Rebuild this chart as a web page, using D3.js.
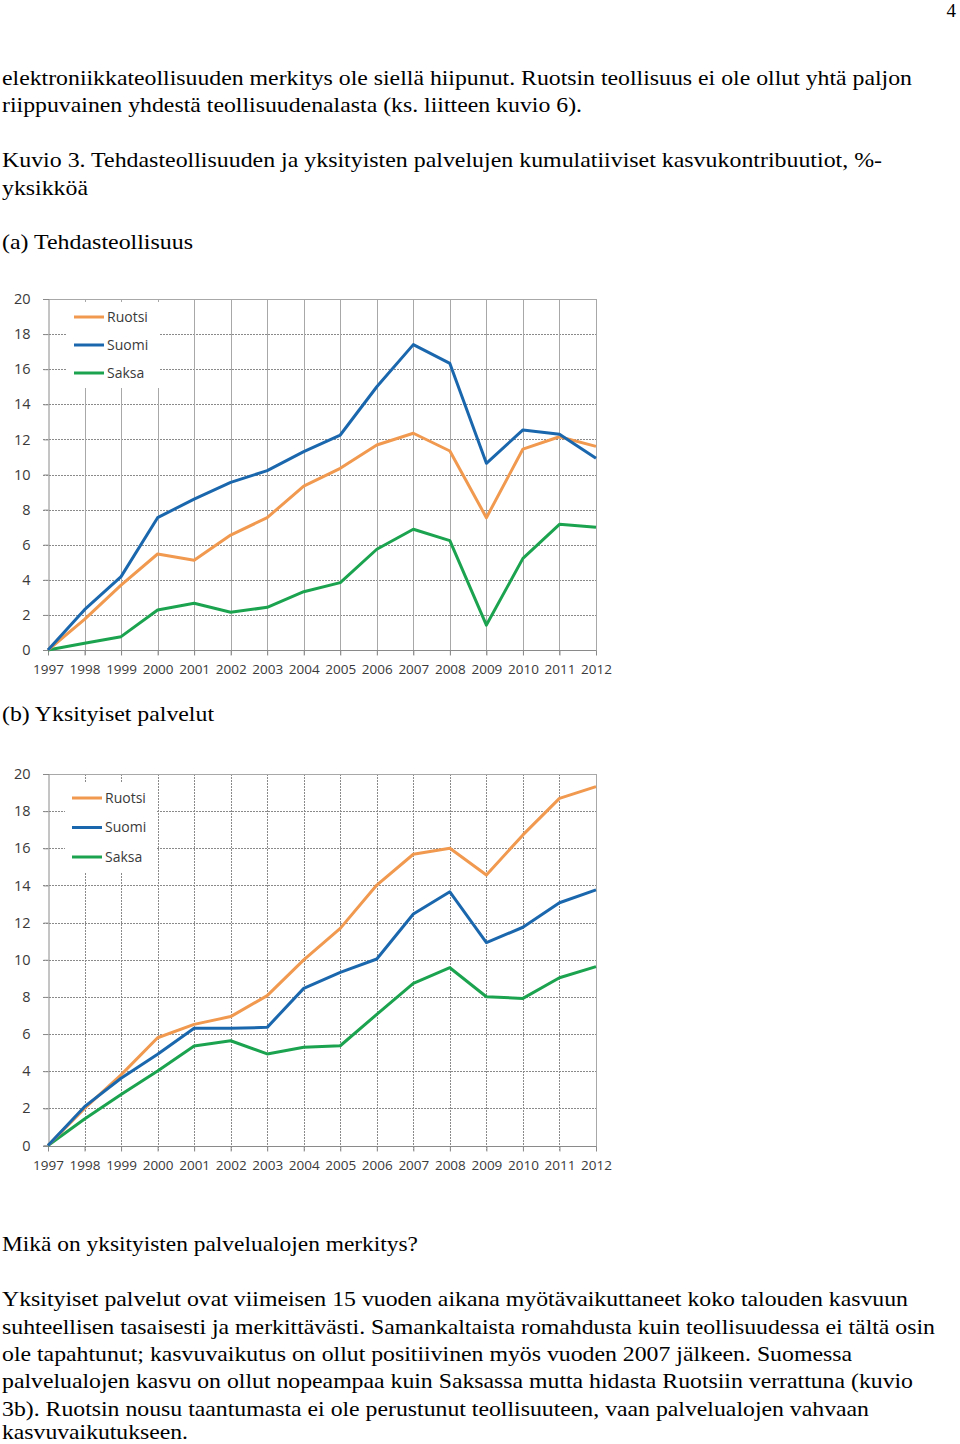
<!DOCTYPE html>
<html>
<head>
<meta charset="utf-8">
<script src="https://cdn.jsdelivr.net/npm/d3@7"></script>
<style>
  html, body { margin: 0; padding: 0; background: #fff; }
  svg { display: block; }
</style>
</head>
<body>
<svg id="page" width="960" height="1444"></svg>
<script>
// ---------- DATA ----------
const years = ["1997","1998","1999","2000","2001","2002","2003","2004","2005","2006","2007","2008","2009","2010","2011","2012"];
const yTicks = [0, 2, 4, 6, 8, 10, 12, 14, 16, 18, 20];
const seriesNames = ["Ruotsi", "Suomi", "Saksa"];

// (a) Tehdasteollisuus
const ruotsiA = [0, 1.75, 3.7, 5.47, 5.11, 6.55, 7.54, 9.34, 10.35, 11.68, 12.35, 11.34, 7.54, 11.45, 12.15, 11.6];
const suomiA  = [0, 2.3, 4.18, 7.54, 8.6, 9.55, 10.22, 11.3, 12.25, 15.0, 17.4, 16.33, 10.64, 12.54, 12.3, 10.92];
const saksaA  = [0, 0.38, 0.76, 2.28, 2.66, 2.15, 2.43, 3.32, 3.84, 5.74, 6.88, 6.23, 1.42, 5.22, 7.16, 6.99];

// (b) Yksityiset palvelut
const ruotsiB = [0, 2.0, 3.8, 5.8, 6.52, 6.94, 8.07, 9.99, 11.69, 14.02, 15.68, 16.0, 14.56, 16.72, 18.69, 19.32];
const suomiB  = [0, 2.09, 3.62, 4.91, 6.31, 6.31, 6.36, 8.46, 9.32, 10.04, 12.46, 13.66, 10.92, 11.75, 13.07, 13.76];
const saksaB  = [0, 1.43, 2.75, 4.01, 5.36, 5.64, 4.93, 5.29, 5.37, 7.06, 8.73, 9.57, 8.01, 7.92, 9.03, 9.63];

// Page text
const textLines = [
  {t: "elektroniikkateollisuuden merkitys ole siellä hiipunut. Ruotsin teollisuus ei ole ollut yhtä paljon", y: 85, w: 910},
  {t: "riippuvainen yhdestä teollisuudenalasta (ks. liitteen kuvio 6).", y: 112, w: 580},
  {t: "Kuvio 3. Tehdasteollisuuden ja yksityisten palvelujen kumulatiiviset kasvukontribuutiot, %-", y: 167, w: 880},
  {t: "yksikköä", y: 195, w: 86},
  {t: "(a) Tehdasteollisuus", y: 249, w: 191},
  {t: "(b) Yksityiset palvelut", y: 721, w: 212},
  {t: "Mikä on yksityisten palvelualojen merkitys?", y: 1251, w: 416},
  {t: "Yksityiset palvelut ovat viimeisen 15 vuoden aikana myötävaikuttaneet koko talouden kasvuun", y: 1306, w: 906},
  {t: "suhteellisen tasaisesti ja merkittävästi. Samankaltaista romahdusta kuin teollisuudessa ei tältä osin", y: 1334, w: 933},
  {t: "ole tapahtunut; kasvuvaikutus on ollut positiivinen myös vuoden 2007 jälkeen. Suomessa", y: 1361, w: 850},
  {t: "palvelualojen kasvu on ollut nopeampaa kuin Saksassa mutta hidasta Ruotsiin verrattuna (kuvio", y: 1388, w: 911},
  {t: "3b). Ruotsin nousu taantumasta ei ole perustunut teollisuuteen, vaan palvelualojen vahvaan", y: 1416, w: 867},
  {t: "kasvuvaikutukseen.", y: 1439, w: 186}
];

// ---------- STYLE ----------
const colors = {"Ruotsi": "#F0994F", "Suomi": "#1B67AD", "Saksa": "#1CA34F"};
const serif = "'Liberation Serif', 'Times New Roman', serif";
const sans = "'Open Sans', 'Noto Sans', sans-serif";

const svg = d3.select("#page");
svg.append("rect").attr("width", 960).attr("height", 1444).attr("fill", "#fff");

// page number
svg.append("text").attr("x", 956).attr("y", 17).attr("text-anchor", "end")
  .attr("font-family", serif).attr("font-size", 19).attr("fill", "#000").text("4");

textLines.forEach(l => {
  svg.append("text").attr("x", 2).attr("y", l.y)
    .attr("font-family", serif).attr("font-size", 22).attr("fill", "#000")
    .attr("textLength", l.w).attr("lengthAdjust", "spacingAndGlyphs")
    .text(l.t);
});

function drawChart(cfg) {
  const g = svg.append("g");
  const x = d3.scalePoint().domain(years).range([cfg.left, cfg.right]);
  const y = d3.scaleLinear().domain([0, 20]).range([cfg.bottom, cfg.top]);

  // horizontal dotted gridlines (with small tick to the left)
  g.append("g").selectAll("line").data(yTicks.filter(d => d > 0)).join("line")
    .attr("x1", cfg.left - 5).attr("x2", cfg.right)
    .attr("y1", d => Math.round(y(d)) + 0.5).attr("y2", d => Math.round(y(d)) + 0.5)
    .attr("stroke", "#8a8a8a").attr("stroke-width", 1)
    .attr("stroke-dasharray", "2,1");
  // vertical gridlines
  g.append("g").selectAll("line").data(years.slice(1)).join("line")
    .attr("x1", d => Math.round(x(d)) + 0.5).attr("x2", d => Math.round(x(d)) + 0.5)
    .attr("y1", cfg.top).attr("y2", cfg.bottom + 5)
    .attr("stroke", cfg.vDotted ? "#8a8a8a" : "#a8a8a8").attr("stroke-width", 1)
    .attr("stroke-dasharray", cfg.vDotted ? "2,1" : null);
  // top border (solid)
  g.append("line").attr("x1", cfg.left).attr("x2", cfg.right)
    .attr("y1", Math.round(y(20)) + 0.5).attr("y2", Math.round(y(20)) + 0.5)
    .attr("stroke", "#a8a8a8");
  // right border
  g.append("line").attr("x1", Math.round(cfg.right) + 0.5).attr("x2", Math.round(cfg.right) + 0.5)
    .attr("y1", cfg.top).attr("y2", cfg.bottom + 5)
    .attr("stroke", "#a8a8a8");

  // legend background box (covers gridlines)
  g.append("rect").attr("x", cfg.legX - 7).attr("y", cfg.legBoxTop)
    .attr("width", 92).attr("height", cfg.legBoxBottom - cfg.legBoxTop)
    .attr("fill", "#fff");

  // axes
  const yAxis = d3.axisLeft(y).tickValues(yTicks).tickSize(5).tickPadding(12).tickFormat(d3.format("d"));
  const ya = g.append("g").attr("transform", `translate(${Math.round(cfg.left) + 0.5},0)`).call(yAxis);
  ya.select(".domain").attr("stroke", "#8a8a8a");
  ya.selectAll(".tick line").attr("stroke", "#8a8a8a");
  ya.selectAll("text").attr("font-family", sans).attr("font-size", 14.5).attr("fill", "#3a3a3a").attr("dx", "-1");

  const xAxis = d3.axisBottom(x).tickSize(5).tickPadding(9);
  const xa = g.append("g").attr("transform", `translate(0,${Math.round(cfg.bottom) + 0.5})`).call(xAxis);
  xa.select(".domain").attr("stroke", "#8a8a8a").attr("d", `M${cfg.left - 5},0H${cfg.right}`);
  xa.selectAll(".tick line").attr("stroke", "#8a8a8a");
  xa.selectAll("text").attr("font-family", sans).attr("font-size", 13.5).attr("fill", "#3a3a3a");

  // lines
  const line = d3.line().x((d, i) => x(years[i])).y(d => y(d));
  const order = ["Saksa", "Ruotsi", "Suomi"];
  order.forEach(name => {
    g.append("path").datum(cfg.data[name]).attr("d", line)
      .attr("fill", "none").attr("stroke", colors[name]).attr("stroke-width", 3)
      .attr("stroke-linejoin", "round").attr("stroke-linecap", "butt");
  });

  // legend
  seriesNames.forEach((name, i) => {
    const ly = cfg.legY + i * cfg.legStep;
    g.append("line").attr("x1", cfg.legX).attr("x2", cfg.legX + 30)
      .attr("y1", ly).attr("y2", ly).attr("stroke", colors[name]).attr("stroke-width", 3);
    g.append("text").attr("x", cfg.legX + 33).attr("y", ly).attr("dy", "0.35em")
      .attr("font-family", sans).attr("font-size", 14).attr("fill", "#3a3a3a").text(name);
  });
}

drawChart({
  left: 48, right: 596, top: 299, bottom: 650, vDotted: false,
  legX: 74, legY: 317, legStep: 28, legBoxTop: 302, legBoxBottom: 388,
  data: {"Ruotsi": ruotsiA, "Suomi": suomiA, "Saksa": saksaA}
});

drawChart({
  left: 48, right: 596, top: 774, bottom: 1145.5, vDotted: true,
  legX: 72, legY: 798, legStep: 29.5, legBoxTop: 782, legBoxBottom: 873,
  data: {"Ruotsi": ruotsiB, "Suomi": suomiB, "Saksa": saksaB}
});
</script>
</body>
</html>
